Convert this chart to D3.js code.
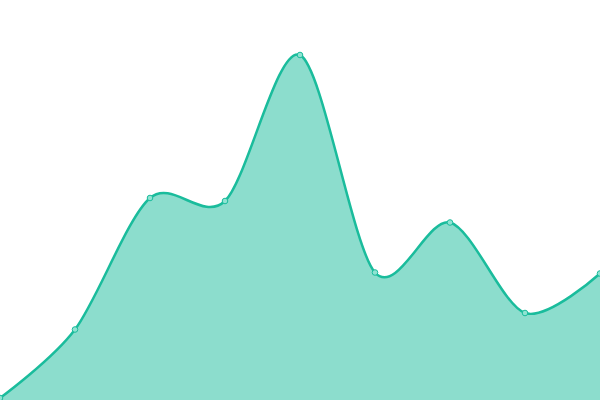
<!DOCTYPE html>
<html>
<head>
<meta charset="utf-8">
<script src="https://cdn.jsdelivr.net/npm/d3@7"></script>
<style>
  body { margin: 0; background: #fff; }
  svg { display: block; }
</style>
</head>
<body>
<svg id="chart" width="600" height="400"></svg>
<script>
const steps = [0, 1, 2, 3, 4, 5, 6, 7, 8];
const values = [2, 70.5, 202, 199, 345, 127.5, 177.5, 87, 126.5];

const width = 600;
const height = 400;
const teal = '#1abc9c';

const svg = d3.select('#chart');

const x = d3.scaleLinear().domain([0, steps.length - 1]).range([0, width]);
const y = d3.scaleLinear().domain([0, 400]).range([height, 0]);

const data = steps.map((s, i) => ({ s, v: values[i] }));

const curve = d3.curveCardinal.tension(0.1);

// Filled area
svg.append('path')
  .datum(data)
  .attr('fill', teal)
  .attr('fill-opacity', 0.5)
  .attr('d', d3.area()
    .x((d) => x(d.s))
    .y0(height)
    .y1((d) => y(d.v))
    .curve(curve));

// Line on top
svg.append('path')
  .datum(data)
  .attr('fill', 'none')
  .attr('stroke', teal)
  .attr('stroke-width', 2.5)
  .attr('d', d3.line()
    .x((d) => x(d.s))
    .y((d) => y(d.v))
    .curve(curve));

// Point markers
svg.append('g')
  .selectAll('circle')
  .data(data)
  .join('circle')
  .attr('cx', (d) => x(d.s))
  .attr('cy', (d) => y(d.v))
  .attr('r', 2.8)
  .attr('fill', '#8fe3d2')
  .attr('stroke', teal)
  .attr('stroke-width', 1);
</script>
</body>
</html>
